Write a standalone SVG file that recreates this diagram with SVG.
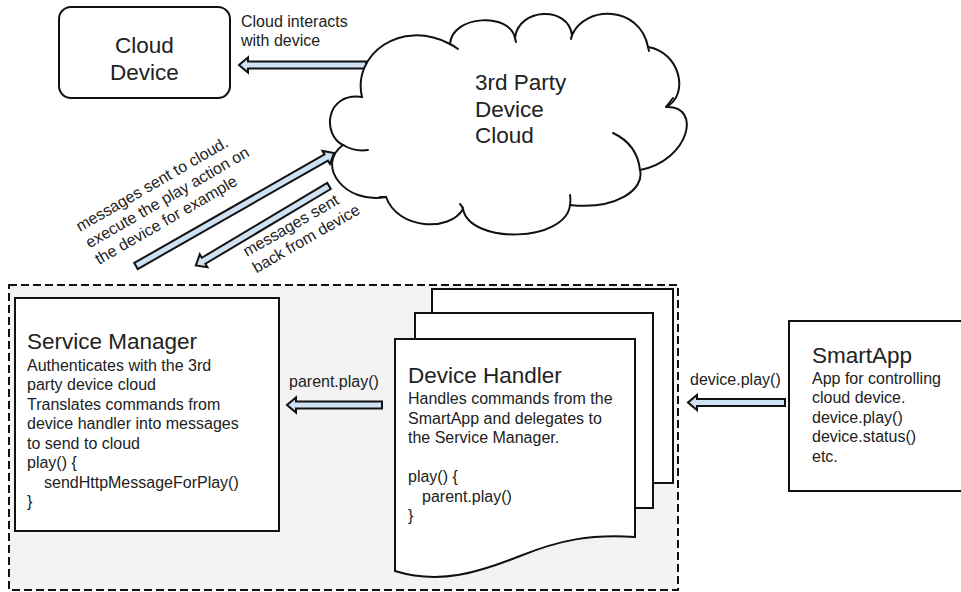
<svg xmlns="http://www.w3.org/2000/svg" width="961" height="592" viewBox="0 0 961 592">
<style>
text{font-family:"Liberation Sans",Arial,sans-serif;fill:#222}
.t{font-size:22.5px}
.b{font-size:16px}
.box{fill:#fff;stroke:#111;stroke-width:2}
.arr{fill:#cfe2f3;stroke:#111;stroke-width:2;stroke-linejoin:miter}
.cl{fill:none;stroke:#111;stroke-width:2;stroke-linecap:round}
</style>
<rect id="container" x="9" y="285" width="669" height="305" fill="#f3f3f3" stroke="#111" stroke-width="2" stroke-dasharray="8 4"/>
<g id="connectors">
  <path class="arr" d="M366,61.5 L248,61.5 L248,57.5 L239,65 L248,72.5 L248,68.5 L366,68.5 Z"/>
  <text class="b" x="241" y="27">Cloud interacts</text>
  <text class="b" x="241" y="46">with device</text>
  <path class="arr" transform="translate(136,266) rotate(-29.7)" d="M0,-3.5 L219,-3.5 L219,-7.5 L228,0 L219,7.5 L219,3.5 L0,3.5 Z"/>
  <g transform="translate(80,232) rotate(-30)">
    <text class="b" x="0" y="0">messages sent to cloud.</text>
    <text class="b" x="0" y="19">execute the play action on</text>
    <text class="b" x="0" y="38">the device for example</text>
  </g>
  <path class="arr" transform="translate(329,186) rotate(149.2)" d="M0,-3.5 L146,-3.5 L146,-7.5 L155,0 L146,7.5 L146,3.5 L0,3.5 Z"/>
  <g transform="translate(247,257) rotate(-30)">
    <text class="b" x="0" y="0">messages sent</text>
    <text class="b" x="0" y="19">back from device</text>
  </g>
  <path class="arr" d="M382,401.5 L296,401.5 L296,397.5 L287,405 L296,412.5 L296,408.5 L382,408.5 Z"/>
  <text class="b" x="289" y="387">parent.play()</text>
  <path class="arr" d="M785,399 L697,399 L697,395 L688,402.5 L697,410 L697,406 L785,406 Z"/>
  <text class="b" x="690" y="385">device.play()</text>
</g>
<g id="cloud-device">
  <rect class="box" x="59" y="7" width="171" height="91" rx="12"/>
  <text class="t" x="144.5" y="53" text-anchor="middle">Cloud</text>
  <text class="t" x="144.5" y="80" text-anchor="middle">Device</text>
</g>
<g id="third-party-cloud">
  <path fill="#fff" stroke="#111" stroke-width="2" d="M362,97 C352,55 400,18 450,44 C452,15 510,12 515,38 C518,8 568,5 572,35 C585,5 640,5 648,47 C680,52 690,95 666,107 C702,105 690,160 640,170 C645,190 615,210 570,205 C566,242 470,245 463,209 C450,232 398,230 386,197 C345,205 315,165 343,145 C322,135 325,92 362,97 Z"/>
  <path class="cl" d="M343,145 Q355,152 368,150"/>
  <path class="cl" d="M450,44 Q454,46 458,49"/>
  <path class="cl" d="M515,38 L516,42"/>
  <path class="cl" d="M572,35 L571,39"/>
  <path class="cl" d="M648,47 L649,51"/>
  <path class="cl" d="M666,107 L673,98"/>
  <path class="cl" d="M640,170 C638,152 628,140 613,133"/>
  <path class="cl" d="M570,205 Q571,199 570,195"/>
  <path class="cl" d="M463,209 Q462,206 460,204"/>
  <path class="cl" d="M386,197 L380,197"/>
  <text class="t" x="475" y="90">3rd Party</text>
  <text class="t" x="475" y="116.5">Device</text>
  <text class="t" x="475" y="143">Cloud</text>
</g>
<g id="service-manager">
  <rect class="box" x="15" y="298" width="264" height="233"/>
  <text class="t" x="27" y="349">Service Manager</text>
  <text class="b" x="27" y="370.5">Authenticates with the 3rd</text>
  <text class="b" x="27" y="390">party device cloud</text>
  <text class="b" x="27" y="409.5">Translates commands from</text>
  <text class="b" x="27" y="429">device handler into messages</text>
  <text class="b" x="27" y="448.5">to send to cloud</text>
  <text class="b" x="27" y="468">play() {</text>
  <text class="b" x="44" y="487.5">sendHttpMessageForPlay()</text>
  <text class="b" x="27" y="507">}</text>
</g>
<g id="device-handler">
  <rect class="box" x="432" y="289" width="241" height="194"/>
  <rect class="box" x="415" y="313" width="238" height="195"/>
  <path class="box" d="M395,339 L635,339 L635,537 C590,534 560,540 520,556 C480,572 440,585 395,571 Z"/>
  <text class="t" x="408" y="383">Device Handler</text>
  <text class="b" x="408" y="404">Handles commands from the</text>
  <text class="b" x="408" y="423.5">SmartApp and delegates to</text>
  <text class="b" x="408" y="443">the Service Manager.</text>
  <text class="b" x="408" y="482">play() {</text>
  <text class="b" x="422" y="501.5">parent.play()</text>
  <text class="b" x="408" y="521">}</text>
</g>
<g id="smartapp">
  <rect class="box" x="789" y="321" width="200" height="170"/>
  <text class="t" x="812" y="363">SmartApp</text>
  <text class="b" x="812" y="383.5">App for controlling</text>
  <text class="b" x="812" y="403">cloud device.</text>
  <text class="b" x="812" y="422.5">device.play()</text>
  <text class="b" x="812" y="442">device.status()</text>
  <text class="b" x="812" y="461.5">etc.</text>
</g>
</svg>
